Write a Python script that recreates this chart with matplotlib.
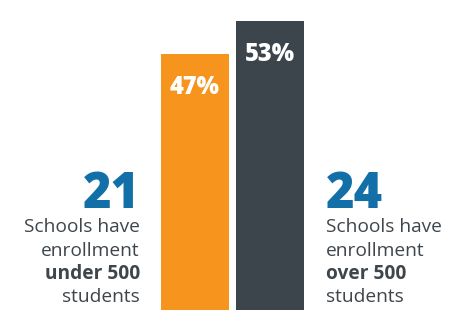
import matplotlib
matplotlib.use("Agg")
import matplotlib.pyplot as plt

# enrollment split
groups = ["under 500", "over 500"]
shares = [47, 53]
school_counts = [21, 24]
bar_colors = ["#F7941D", "#3C444C"]

BLUE = "#126FA8"
GREY = "#3E454B"

plt.rcParams["font.family"] = ["Open Sans", "DejaVu Sans"]

fig = plt.figure(figsize=(4.71, 3.30), dpi=100)
ax = fig.add_axes([0, 20 / 330, 1, 289 / 330])
ax.set_xlim(-2.58, 3.66)
ax.set_ylim(0, 53)
ax.axis("off")

bars = ax.bar(range(len(shares)), shares, width=0.9, color=bar_colors)
for b, v in zip(bars, shares):
    ax.annotate(f"{v}%", (b.get_x() + b.get_width() / 2, v),
                xytext=(0, -24), textcoords="offset points",
                ha="center", va="center", color="white",
                fontsize=17, fontweight="heavy")

# side captions
W, H = 471, 330
def caption(x, ha, count, group):
    fig.text(x / W, 1 - 208 / H, str(count), ha=ha, va="baseline",
             color=BLUE, fontsize=35, fontweight="heavy")
    lines = [("Schools have", "normal"), ("enrollment", "normal"),
             (group, "bold"), ("students", "normal")]
    for i, (t, w) in enumerate(lines):
        fig.text(x / W, 1 - (232 + i * 23.5) / H, t, ha=ha, va="baseline",
                 color=GREY, fontsize=13.8, fontweight=w)

caption(140, "right", school_counts[0], groups[0])
caption(326, "left", school_counts[1], groups[1])

fig.savefig("out.png", dpi=100)
